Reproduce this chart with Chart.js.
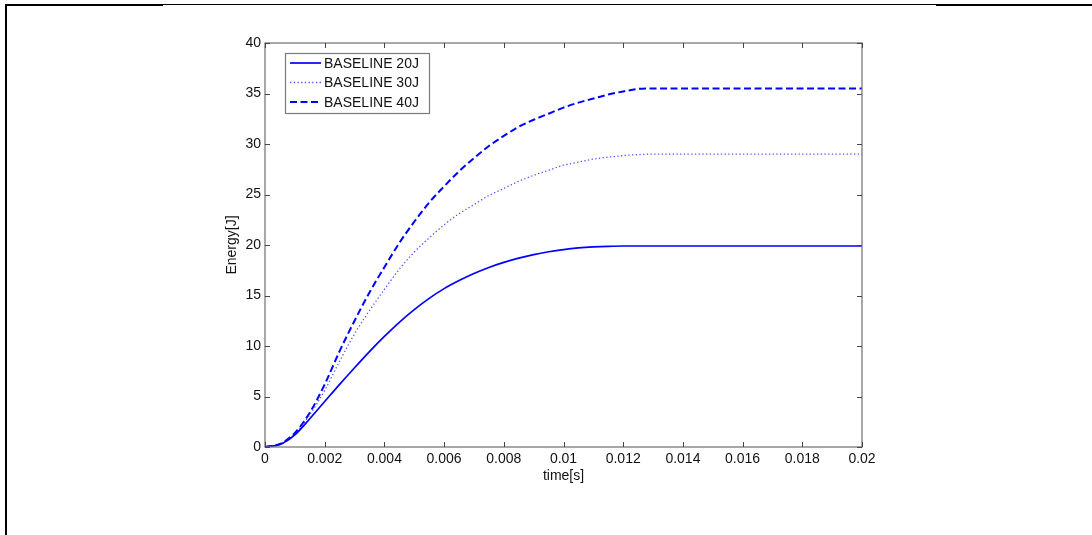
<!DOCTYPE html>
<html>
<head>
<meta charset="utf-8">
<script src="https://cdn.jsdelivr.net/npm/chart.js@4/dist/chart.umd.min.js"></script>
<style>
  body { margin: 0; background: #fff; }
  #wrap { position: relative; width: 1092px; height: 535px; }
  .rule { position: absolute; background: #000; }
</style>
</head>
<body>
<div id="wrap">
  <canvas id="energyChart" width="1092" height="535" style="width:1092px;height:535px"></canvas>
  <div class="rule" style="left:5px;top:4px;width:158px;height:2px"></div>
  <div class="rule" style="left:163px;top:4px;width:773px;height:1px"></div>
  <div class="rule" style="left:936px;top:4px;width:156px;height:2px"></div>
  <div class="rule" style="left:5px;top:4px;width:2px;height:531px"></div>
</div>
<script>
const timeS = [0, 0.0005, 0.001, 0.0015, 0.002, 0.0025, 0.003, 0.0035, 0.004, 0.0045, 0.005,
  0.0055, 0.006, 0.0065, 0.007, 0.0075, 0.008, 0.0085, 0.009, 0.0095, 0.01,
  0.0105, 0.011, 0.0115, 0.012, 0.0125, 0.013, 0.014, 0.016, 0.018, 0.02];

const baseline20 = [0, 0.25, 1.2, 2.8, 4.5, 6.2, 7.85, 9.45, 10.95, 12.35, 13.6,
  14.72, 15.68, 16.48, 17.18, 17.78, 18.28, 18.7, 19.05, 19.33, 19.55,
  19.71, 19.81, 19.87, 19.9, 19.9, 19.9, 19.9, 19.9, 19.9, 19.9];

const baseline30 = [0, 0.25, 1.3, 3.2, 5.6, 8.5, 11.2, 13.5, 15.6, 17.6, 19.3,
  20.7, 22.0, 23.1, 24.0, 24.9, 25.6, 26.3, 26.9, 27.4, 27.9,
  28.2, 28.5, 28.7, 28.85, 28.95, 29.0, 29.0, 29.0, 29.0, 29.0];

const baseline40 = [0, 0.3, 1.4, 3.4, 6.2, 9.5, 12.5, 15.3, 17.8, 20.2, 22.3,
  24.2, 25.8, 27.3, 28.6, 29.8, 30.8, 31.7, 32.4, 33.0, 33.6,
  34.1, 34.5, 34.9, 35.2, 35.45, 35.5, 35.5, 35.5, 35.5, 35.5];

const seriesLabels = ['BASELINE 20J', 'BASELINE 30J', 'BASELINE 40J'];

const xTickValues = [0, 0.002, 0.004, 0.006, 0.008, 0.01, 0.012, 0.014, 0.016, 0.018, 0.02];
const xTickLabels = ['0', '0.002', '0.004', '0.006', '0.008', '0.01', '0.012', '0.014', '0.016', '0.018', '0.02'];
const yTickValues = [0, 5, 10, 15, 20, 25, 30, 35, 40];
const yTickLabels = ['0', '5', '10', '15', '20', '25', '30', '35', '40'];

Chart.defaults.font.family = '"Liberation Sans", Arial, sans-serif';
Chart.defaults.font.size = 14;

function toPoints(values){
  return timeS.map((t, i) => ({ x: t, y: values[i] }));
}

// axes box with inward ticks on all four sides (matlab style)
const boxTicks = {
  id: 'boxTicks',
  afterDatasetsDraw(chart){
    const { ctx, chartArea: a, scales: { x, y } } = chart;
    ctx.save();
    ctx.strokeStyle = '#7a7a7a';
    ctx.lineWidth = 1.3;
    ctx.strokeRect(a.left, a.top, a.right - a.left, a.bottom - a.top);
    ctx.strokeStyle = '#444';
    ctx.lineWidth = 1;
    ctx.beginPath();
    x.ticks.forEach(t => {
      const px = Math.round(x.getPixelForValue(t.value)) + 0.5;
      ctx.moveTo(px, a.bottom); ctx.lineTo(px, a.bottom - 5);
      ctx.moveTo(px, a.top); ctx.lineTo(px, a.top + 5);
    });
    y.ticks.forEach(t => {
      const py = Math.round(y.getPixelForValue(t.value)) + 0.5;
      ctx.moveTo(a.left, py); ctx.lineTo(a.left + 5, py);
      ctx.moveTo(a.right, py); ctx.lineTo(a.right - 5, py);
    });
    ctx.stroke();
    ctx.restore();
  }
};

// legend box inside the plot, top left
const innerLegend = {
  id: 'innerLegend',
  afterDraw(chart){
    const ctx = chart.ctx;
    const left = 285, top = 53, w = 144, h = 60;
    ctx.save();
    ctx.fillStyle = '#fff';
    ctx.fillRect(left, top, w, h);
    ctx.strokeStyle = '#7a7a7a';
    ctx.lineWidth = 1.2;
    ctx.strokeRect(left + 0.5, top + 0.5, w, h);
    ctx.font = '14px "Liberation Sans", Arial, sans-serif';
    ctx.textBaseline = 'middle';
    chart.data.datasets.forEach((ds, i) => {
      const yy = top + 10 + i * 19.5;
      ctx.strokeStyle = ds.borderColor;
      ctx.lineWidth = ds.borderWidth;
      ctx.setLineDash(ds.borderDash || []);
      ctx.beginPath();
      ctx.moveTo(290, yy);
      ctx.lineTo(321, yy);
      ctx.stroke();
      ctx.setLineDash([]);
      ctx.fillStyle = '#111';
      ctx.fillText(ds.label, 324, yy + 1);
    });
    ctx.restore();
  }
};

const ctx = document.getElementById('energyChart');

new Chart(ctx, {
  type: 'line',
  data: {
    datasets: [
      {
        label: seriesLabels[0],
        data: toPoints(baseline20),
        borderColor: '#0000ff',
        borderWidth: 1.7,
        pointRadius: 0,
        cubicInterpolationMode: 'monotone'
      },
      {
        label: seriesLabels[1],
        data: toPoints(baseline30),
        borderColor: 'rgba(50, 50, 255, 0.85)',
        borderWidth: 1.3,
        borderDash: [1.3, 2.4],
        pointRadius: 0,
        cubicInterpolationMode: 'monotone'
      },
      {
        label: seriesLabels[2],
        data: toPoints(baseline40),
        borderColor: '#0000ff',
        borderWidth: 2,
        borderDash: [7, 3.5],
        pointRadius: 0,
        cubicInterpolationMode: 'monotone'
      }
    ]
  },
  options: {
    responsive: false,
    animation: false,
    layout: {
      padding: { left: 224, top: 43, right: 230, bottom: 50 }
    },
    scales: {
      x: {
        type: 'linear',
        min: 0,
        max: 0.02,
        afterBuildTicks: s => { s.ticks = xTickValues.map(v => ({ value: v })); },
        afterFit: s => { s.height = 38; },
        grid: { display: false, drawTicks: false },
        border: { display: false },
        ticks: {
          color: '#111',
          padding: 4,
          maxRotation: 0,
          callback: (v, i) => xTickLabels[i]
        },
        title: { display: true, text: 'time[s]', color: '#111', padding: 0 }
      },
      y: {
        type: 'linear',
        min: 0,
        max: 40,
        afterBuildTicks: s => { s.ticks = yTickValues.map(v => ({ value: v })); },
        afterFit: s => { s.width = 41; },
        grid: { display: false, drawTicks: false },
        border: { display: false },
        ticks: {
          color: '#111',
          padding: 4,
          callback: (v, i) => yTickLabels[i]
        },
        title: { display: true, text: 'Energy[J]', color: '#111', padding: 0 }
      }
    },
    plugins: {
      legend: { display: false },
      tooltip: { enabled: false }
    }
  },
  plugins: [boxTicks, innerLegend]
});
</script>
</body>
</html>
